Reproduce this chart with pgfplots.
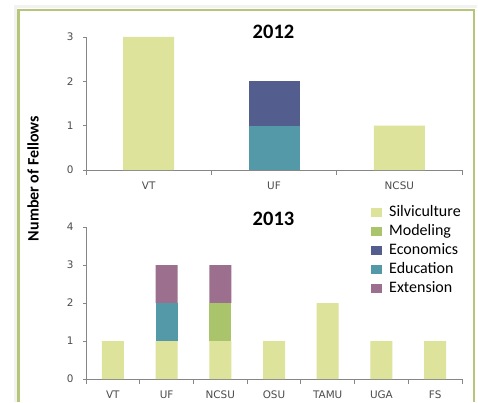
\documentclass[border=0pt]{standalone}
\usepackage{pgfplots}
\pgfplotsset{compat=1.18}
\usepackage{fontspec}
\setmainfont{Carlito}
\newfontfamily\tickfont{DejaVu Sans}
\newcommand\tf{\tickfont\fontsize{10.4bp}{11bp}\selectfont}
\definecolor{silv}{HTML}{DDE39A}
\definecolor{mode}{HTML}{A9C46B}
\definecolor{econ}{HTML}{545E8E}
\definecolor{educ}{HTML}{5399A8}
\definecolor{exte}{HTML}{9C6F8E}
\definecolor{axisgray}{HTML}{868686}
\definecolor{framegreen}{HTML}{B5C57A}
\pgfplotsset{
  sq/.style={legend image code/.code={\fill[#1] (0bp,-4.5bp) rectangle (11bp,4.5bp); \path (0bp,0bp) -- (17bp,0bp);}},
  mystyle/.style={
    scale only axis, width=376bp,
    axis x line*=bottom, axis y line*=left,
    axis line style={axisgray, line width=0.8bp},
    tick style={axisgray, line width=0.8bp},
    tick align=outside,
    major tick length=3bp, minor tick length=5bp,
    major x tick style={draw=none},
    ybar stacked,
    ymin=0,
    ytick distance=1,
    /pgf/number format/assume math mode=true,
    tick label style={font=\tf, text=black!70},
    yticklabel={\tf\pgfmathprintnumber{\tick}},
    yticklabel style={xshift=-6bp},
    xticklabel style={yshift=-5.5bp},
    every axis plot/.append style={draw=none},
  }
}
\begin{document}
\begin{tikzpicture}[x=1bp,y=1bp]
\useasboundingbox (0,0) rectangle (478,402);
\fill[white] (0,0) rectangle (478,402);
\draw[line width=3bp, gray!10] (15.5,0) -- (15.5,395.5) -- (477,395.5);
\draw[line width=2.5bp, framegreen] (18.5,0) -- (18.5,392) -- (474,392) -- (474,0);

% 2012
\begin{axis}[mystyle, at={(86bp,232bp)}, anchor=south west,
  height=133bp, ymax=3,
  xmin=-0.5, xmax=2.5, bar width=51bp,
  xtick={0,1,2}, xticklabels={VT,UF,NCSU},
  minor xtick={-0.5,0.5,1.5,2.5}]
\addplot[fill=silv] coordinates {(0,3) (1,0) (2,1)};
\addplot[fill=mode] coordinates {(0,0) (1,0) (2,0)};
\addplot[fill=educ] coordinates {(0,0) (1,1) (2,0)};
\addplot[fill=econ] coordinates {(0,0) (1,1) (2,0)};
\addplot[fill=exte] coordinates {(0,0) (1,0) (2,0)};
\end{axis}

% 2013
\begin{axis}[mystyle, at={(86bp,23bp)}, anchor=south west,
  height=152bp, ymax=4,
  xmin=-0.5, xmax=6.5, bar width=22bp,
  xtick={0,1,2,3,4,5,6}, xticklabels={VT,UF,NCSU,OSU,TAMU,UGA,FS},
  minor xtick={-0.5,0.5,1.5,2.5,3.5,4.5,5.5,6.5},
  legend style={draw=none, fill=none, inner sep=0pt, anchor=north west,
    at={(0.758,1.15)}, font=\fontsize{16bp}{16bp}\selectfont,
    cells={anchor=west},
    nodes={inner sep=1bp, text height=11bp, text depth=3bp},
    row sep=3bp},
  ]
\addplot[fill=silv, forget plot] coordinates {(0,1) (1,1) (2,1) (3,1) (4,2) (5,1) (6,1)};
\addplot[fill=mode, forget plot] coordinates {(0,0) (1,0) (2,1) (3,0) (4,0) (5,0) (6,0)};
\addplot[fill=educ, forget plot] coordinates {(0,0) (1,1) (2,0) (3,0) (4,0) (5,0) (6,0)};
\addplot[fill=econ, forget plot] coordinates {(0,0) (1,0) (2,0) (3,0) (4,0) (5,0) (6,0)};
\addplot[fill=exte, forget plot] coordinates {(0,0) (1,1) (2,1) (3,0) (4,0) (5,0) (6,0)};
\addlegendimage{sq=silv}\addlegendentry{Silviculture}
\addlegendimage{sq=mode}\addlegendentry{Modeling}
\addlegendimage{sq=econ}\addlegendentry{Economics}
\addlegendimage{sq=educ}\addlegendentry{Education}
\addlegendimage{sq=exte}\addlegendentry{Extension}
\end{axis}

\node[font=\bfseries\fontsize{20.5bp}{20.5bp}\selectfont, anchor=base] at (273.5,364) {2012};
\node[font=\bfseries\fontsize{20.5bp}{20.5bp}\selectfont, anchor=base] at (273.5,177) {2013};
\node[font=\bfseries\fontsize{16bp}{16bp}\selectfont, rotate=90] at (33,223.5) {Number of Fellows};
\end{tikzpicture}
\end{document}
